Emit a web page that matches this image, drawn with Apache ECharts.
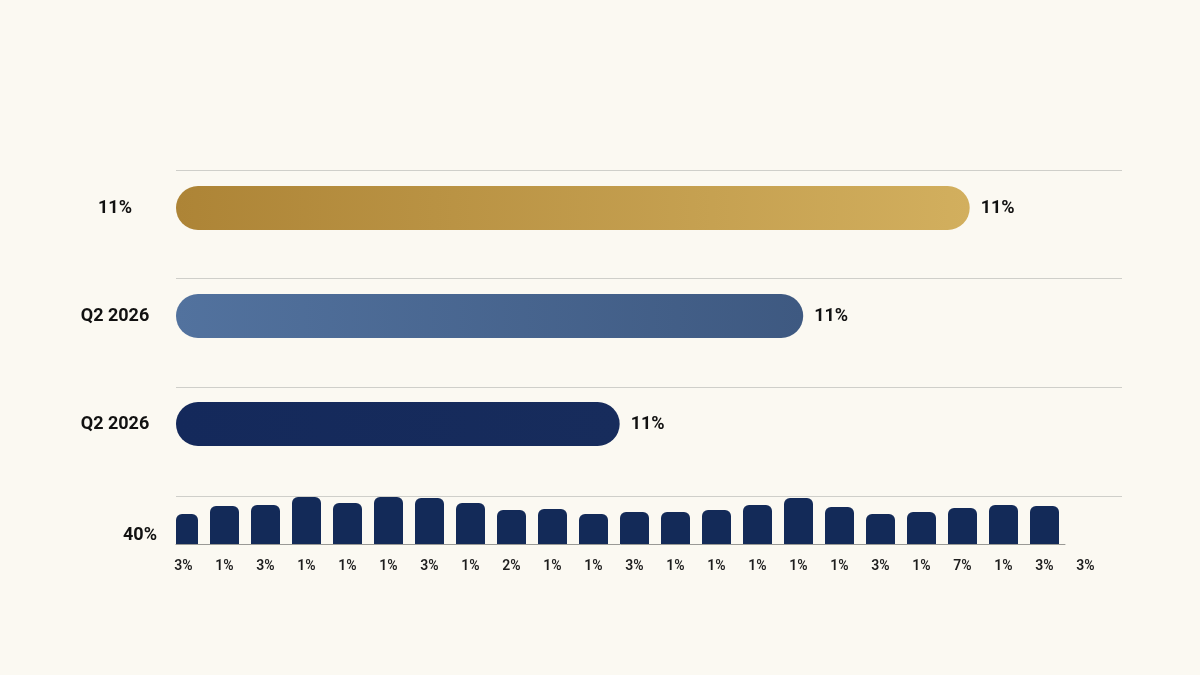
<!DOCTYPE html>
<html>
<head>
<meta charset="utf-8">
<script src="https://cdn.jsdelivr.net/npm/echarts@6/dist/echarts.min.js"></script>
<style>
html,body{margin:0;padding:0;background:#FBF9F2;}
#main{width:1200px;height:675px;}
</style>
</head>
<body>
<div id="main"></div>
<script>
// Top horizontal bars
const rowCategories = ['11%', 'Q2 2026', 'Q2 2026'];
const rowValues = [83.9, 66.3, 46.9];
const rowValueLabels = ['11%', '11%', '11%'];

// Bottom mini column chart
const colCategories = ['3%','1%','3%','1%','1%','1%','3%','1%','2%','1%','1%','3%','1%','1%','1%','1%','1%','3%','1%','7%','1%','3%','3%'];
const colValues = [30,38,39,47,41,47,46,41,34,35,30,32,32,34,39,46,37,30,32,36,39,38,null];
const colAxisLabel = '40%';

const rowGradients = [
  ['#AD8436', '#D2AF5E'],
  ['#52729E', '#3E5981'],
  ['#14295B', '#172C5C']
];

const chart = echarts.init(document.getElementById('main'));
const font = 'Roboto, "Liberation Sans", sans-serif';

chart.setOption({
  backgroundColor: '#FBF9F2',
  animation: false,
  grid: [
    { left: 176, right: 78, top: 170, height: 326 },   // separator lines
    { left: 176, right: 78, top: 154, height: 324 },   // horizontal bars
    { left: 163, width: 943, top: 496, height: 48 },   // column labels
    { left: 176, right: 135, top: 496, height: 48 },   // baseline + 40%
    { left: 176, width: 943, top: 496, height: 48 }    // columns (clipped at plot edge)
  ],
  xAxis: [
    { gridIndex: 0, type: 'value', show: false, min: 0, max: 1 },
    { gridIndex: 1, type: 'value', min: 0, max: 100, show: false },
    { gridIndex: 2, type: 'category', data: colCategories, boundaryGap: true,
      axisLine: { show: false }, axisTick: { show: false },
      axisLabel: { interval: 0, margin: 15, color: '#1e1e1e', fontSize: 14, fontWeight: 600, fontFamily: font } },
    { gridIndex: 3, type: 'value', min: 0, max: 1,
      axisLine: { show: true, lineStyle: { color: '#9a9a96', width: 1 } },
      axisTick: { show: false }, axisLabel: { show: false }, splitLine: { show: false } },
    { gridIndex: 4, type: 'category', data: colCategories, boundaryGap: true, show: false }
  ],
  yAxis: [
    { gridIndex: 0, type: 'value', min: 0, max: 3, interval: 1,
      axisLine: { show: false }, axisTick: { show: false }, axisLabel: { show: false },
      splitLine: { show: true, lineStyle: { color: '#cfcfca', width: 1 } } },
    { gridIndex: 1, type: 'category', data: rowCategories, inverse: true,
      axisLine: { show: false }, axisTick: { show: false }, splitLine: { show: false },
      axisLabel: { margin: 61, align: 'center', color: '#111', fontSize: 18, fontWeight: 'bold', fontFamily: font } },
    { gridIndex: 2, type: 'value', min: 0, max: 48, show: false },
    { gridIndex: 3, type: 'value', min: 0, max: 48, interval: 48,
      axisLine: { show: false }, axisTick: { show: false }, splitLine: { show: false },
      axisLabel: { margin: 19, verticalAlign: 'bottom', color: '#111', fontSize: 18, fontWeight: 'bold', fontFamily: font,
        formatter: v => (v === 0 ? colAxisLabel : '') } },
    { gridIndex: 4, type: 'value', min: 0, max: 48, show: false }
  ],
  series: [
    {
      type: 'bar', xAxisIndex: 1, yAxisIndex: 1, barWidth: 44,
      data: rowValues.map((v, i) => ({
        value: v,
        itemStyle: {
          borderRadius: 22,
          color: new echarts.graphic.LinearGradient(0, 0, 1, 0, [
            { offset: 0, color: rowGradients[i][0] },
            { offset: 1, color: rowGradients[i][1] }
          ])
        },
        label: { formatter: rowValueLabels[i] }
      })),
      label: { show: true, position: 'right', distance: 11, color: '#111', fontSize: 18, fontWeight: 'bold', fontFamily: font }
    },
    {
      type: 'bar', xAxisIndex: 4, yAxisIndex: 4, barWidth: 29, barGap: '0%', clip: true,
      data: colValues,
      itemStyle: { color: '#132A58', borderRadius: [6, 6, 0, 0] }
    },
    {
      // empty spacer series: shifts the columns left within each band
      type: 'bar', xAxisIndex: 4, yAxisIndex: 4, barWidth: 26, silent: true,
      data: []
    }
  ]
});
</script>
</body>
</html>
